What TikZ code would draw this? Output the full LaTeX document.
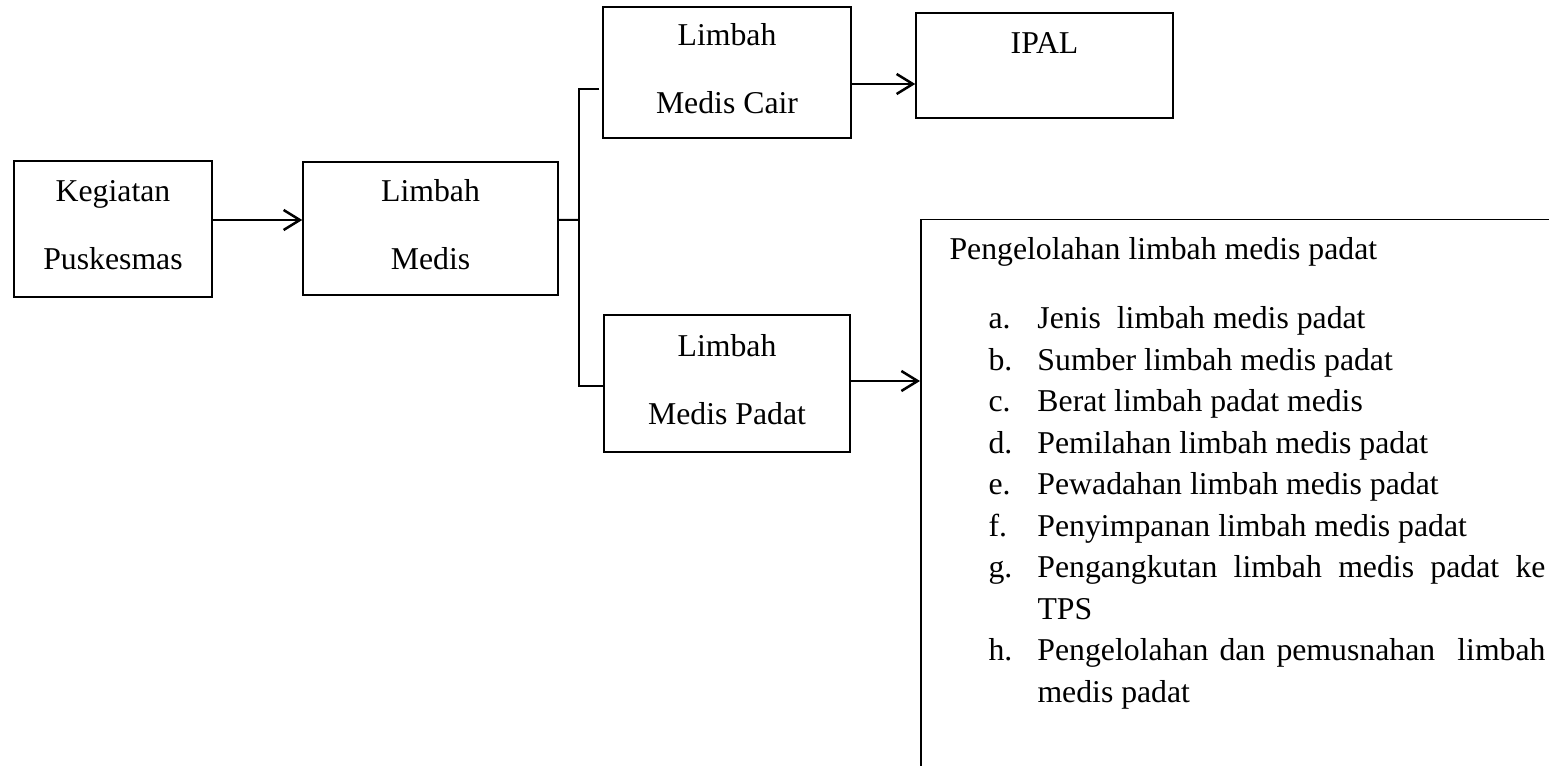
\documentclass[tikz,border=0pt]{standalone}
\usepackage{fontspec}
\setmainfont{Liberation Serif}
\usetikzlibrary{arrows.meta, positioning}
\tikzset{%
	kotak/.style={
		rectangle,
		draw,
		line width=0.6pt,
		inner sep=0pt,
		align=center,
		font=\fontsize{12.7pt}{27.2pt}\selectfont
	},
	panah/.style={
		line width=1pt,
		-{Straight Barb[length=6.5pt,width=8pt]}
	},
	garis/.style={
		line width=0.8pt
	},
}
\newcommand{\butir}[2]{\par\hangindent=19.6pt\hangafter=1\noindent\makebox[19.6pt][l]{#1}#2}
\newcommand{\turun}[1][3.5pt]{\rule[-#1]{0pt}{#1}}

\begin{document}
\begin{tikzpicture}[x=0.4pt, y=-0.4pt]
	\useasboundingbox (0,0) rectangle (1549,766);
	\clip (0,0) rectangle (1549,766);
	
	% kotak-kotak
	\node[kotak, minimum width=79.2pt, minimum height=54.4pt] (keg) at (113,229) {Kegiatan\\Puskesmas\turun};
	\node[kotak, minimum width=102pt, minimum height=53.2pt] (limb) at (430.5,228.5) {Limbah\\Medis\turun};
	\node[kotak, minimum width=99.2pt, minimum height=52.4pt] (cair) at (727,72.5) {Limbah\\Medis Cair\turun};
	\node[kotak, minimum width=102.8pt, minimum height=42pt] (ipal) at (1044.5,65.5) {IPAL\turun[18pt]};
	\node[kotak, minimum width=98.4pt, minimum height=54.8pt] (padat) at (727,383.5) {Limbah\\Medis Padat\turun};
	\node[kotak, minimum width=260pt, minimum height=230pt, anchor=north west] (olah) at (920,219) {};
	\node[anchor=north west, inner sep=0pt, text width=238.4pt, align=justify,
		font=\fontsize{12.7pt}{16.6pt}\selectfont] (isi) at (949,237.3) {%
		\tolerance=10000\hyphenpenalty=10000
		\noindent Pengelolahan limbah medis padat\par
		\vspace{11pt}
		\leftskip=15.6pt
		\butir{a.}{Jenis\ \ limbah medis padat}
		\butir{b.}{Sumber limbah medis padat}
		\butir{c.}{Berat limbah padat medis}
		\butir{d.}{Pemilahan limbah medis padat}
		\butir{e.}{Pewadahan limbah medis padat}
		\butir{f.}{Penyimpanan limbah medis padat}
		\butir{g.}{Pengangkutan limbah medis padat ke TPS}
		\butir{h.}{Pengelolahan dan pemusnahan\ \ limbah medis padat}\par
	};
	
	% panah dan cabang
	\coordinate (cabang) at (578.5,220);
	\draw[panah] ([yshift=3.6pt]keg.east) -- ([yshift=3.6pt]keg.east -| limb.west);
	\draw[garis] ([yshift=3.4pt]limb.east) -- (cabang);
	\draw[garis] ([xshift=-1.2pt,yshift=-6.6pt]cair.west) -| (cabang) |- ([yshift=-1pt]padat.west);
	\draw[panah] ([yshift=-4.6pt]cair.east) -- ([yshift=-4.6pt]cair.east -| ipal.west);
	\draw[panah] ([yshift=1pt]padat.east) -- ([yshift=1pt]padat.east -| olah.west);
\end{tikzpicture}
\end{document}
